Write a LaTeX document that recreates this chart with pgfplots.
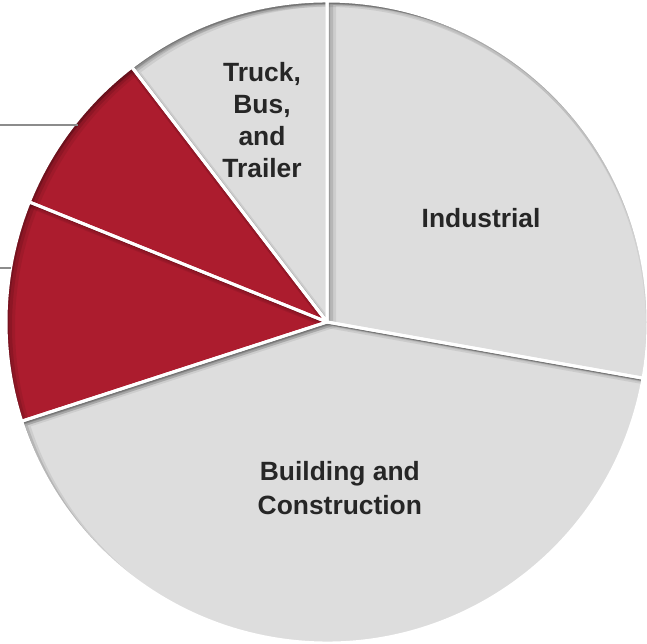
\documentclass[border=0pt]{standalone}
\usepackage{pgfplots}
\pgfplotsset{compat=1.18}
\usepackage{fontspec}
\setmainfont{Liberation Sans}
\definecolor{pieRed}{RGB}{172,28,46}
\definecolor{pieGrey}{RGB}{221,221,221}
\definecolor{txt}{RGB}{38,38,38}
\definecolor{leader}{RGB}{140,140,140}
% slice outline: start point (#1,#2), start angle #3, end angle #4
\newcommand\slc[4]{(axis cs:0,0) -- (axis cs:#1,#2) arc[start angle=#3, end angle=#4, radius=160.5pt] -- cycle}
\newcommand\shl[6]{\fill[black, opacity=#6, even odd rule, shift={(#5)}] (axis cs:-3,-3) rectangle (axis cs:3,3) \slc{#1}{#2}{#3}{#4};}
\newcommand\inshadow[4]{%
  \begin{scope}
    \clip \slc{#1}{#2}{#3}{#4};
    \shl{#1}{#2}{#3}{#4}{0pt,-1.5pt}{0.12}
    \shl{#1}{#2}{#3}{#4}{0pt,-3pt}{0.08}
    \shl{#1}{#2}{#3}{#4}{1.5pt,-1.5pt}{0.15}
    \shl{#1}{#2}{#3}{#4}{3pt,-2pt}{0.11}
    \shl{#1}{#2}{#3}{#4}{4.5pt,-2.6pt}{0.07}
    \shl{#1}{#2}{#3}{#4}{-1pt,-2pt}{0.06}
  \end{scope}}
\begin{document}
\begin{tikzpicture}
\begin{axis}[
  scale only axis, x=160.5pt, y=160.5pt,
  xmin=-1.0187, xmax=0.9969, ymin=-1.0031, ymax=1.0031,
  hide axis, clip=true, clip bounding box=upper bound,
]
\path (rel axis cs:0,0) rectangle (rel axis cs:1,1);
% shares (%): Industrial 27.8, Building and Construction 42.2,
% red segments 11.1 and 8.5, Truck, Bus, and Trailer 10.4 (clockwise from 12 o'clock)
\addplot[draw=none, fill=pieGrey]
  coordinates {(0,0) (0,1)} arc[start angle=90, end angle=-10.08, radius=160.5pt] -- cycle;
\addplot[draw=none, fill=pieGrey]
  coordinates {(0,0) (0.98456,-0.17502)} arc[start angle=-10.08, end angle=-162, radius=160.5pt] -- cycle;
\addplot[draw=none, fill=pieRed]
  coordinates {(0,0) (-0.95106,-0.30902)} arc[start angle=-162, end angle=-201.96, radius=160.5pt] -- cycle;
\addplot[draw=none, fill=pieRed]
  coordinates {(0,0) (-0.92745,0.37396)} arc[start angle=-201.96, end angle=-232.56, radius=160.5pt] -- cycle;
\addplot[draw=none, fill=pieGrey]
  coordinates {(0,0) (-0.60788,0.79403)} arc[start angle=-232.56, end angle=-270, radius=160.5pt] -- cycle;
% inner shadows
\inshadow{0}{1}{90}{-10.08}
\inshadow{0.98456}{-0.17502}{-10.08}{-162}
\inshadow{-0.95106}{-0.30902}{-162}{-201.96}
\inshadow{-0.92745}{0.37396}{-201.96}{-232.56}
\inshadow{-0.60788}{0.79403}{-232.56}{-270}
% white separators
\addplot[draw=white, line width=1.5pt, line join=round]
  coordinates {(0,0) (0,1)} arc[start angle=90, end angle=-10.08, radius=160.5pt] -- cycle;
\addplot[draw=white, line width=1.5pt, line join=round]
  coordinates {(0,0) (0.98456,-0.17502)} arc[start angle=-10.08, end angle=-162, radius=160.5pt] -- cycle;
\addplot[draw=white, line width=1.5pt, line join=round]
  coordinates {(0,0) (-0.95106,-0.30902)} arc[start angle=-162, end angle=-201.96, radius=160.5pt] -- cycle;
\addplot[draw=white, line width=1.5pt, line join=round]
  coordinates {(0,0) (-0.92745,0.37396)} arc[start angle=-201.96, end angle=-232.56, radius=160.5pt] -- cycle;
\addplot[draw=white, line width=1.5pt, line join=round]
  coordinates {(0,0) (-0.60788,0.79403)} arc[start angle=-232.56, end angle=-270, radius=160.5pt] -- cycle;
% leader lines to labels outside the view
\addplot[draw=leader, line width=0.75pt] coordinates {(-1.1,0.614) (-0.776,0.614)};
\addplot[draw=leader, line width=0.75pt] coordinates {(-1.1,0.168) (-0.984,0.168)};
\node[font=\fontsize{13.2}{16}\selectfont\bfseries, text=txt, align=center] at (axis cs:-0.2025,0.629) {Truck,\\Bus,\\and\\Trailer};
\node[font=\fontsize{13.2}{16}\selectfont\bfseries, text=txt, align=center] at (axis cs:0.48,0.324) {Industrial};
\node[font=\fontsize{13.2}{17}\selectfont\bfseries, text=txt, align=center] at (axis cs:0.04,-0.517) {Building and\\Construction};
\end{axis}
\end{tikzpicture}
\end{document}
